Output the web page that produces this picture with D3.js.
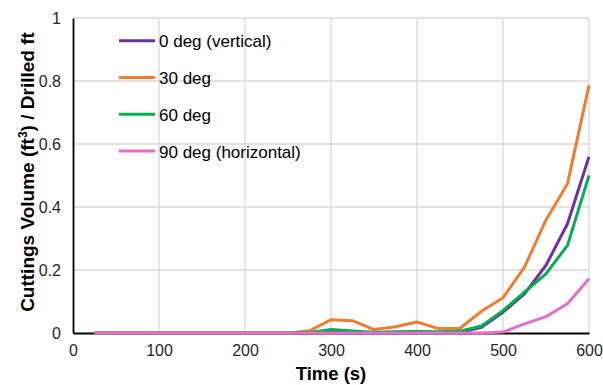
<!DOCTYPE html>
<html>
<head>
<meta charset="utf-8">
<script src="https://cdn.jsdelivr.net/npm/d3@7"></script>
<style>
  html, body { margin: 0; padding: 0; background: #fff; }
  svg { display: block; font-family: "Liberation Sans", Arial, sans-serif; }
</style>
</head>
<body>
<svg id="chart" width="603" height="385"></svg>
<script>
// Sample times (s)
const times = [25, 50, 75, 100, 125, 150, 175, 200, 225, 250, 275, 300, 325, 350, 375, 400, 425, 450, 475, 500, 525, 550, 575, 600];

// Cuttings volume per drilled foot for each inclination
const deg0  = [0, 0, 0, 0, 0, 0, 0, 0, 0, 0, 0, 0.002, 0.001, 0, 0.001, 0.003, 0.001, 0.002, 0.018, 0.066, 0.124, 0.215, 0.347, 0.56];
const deg30 = [0, 0, 0, 0, 0, 0, 0, 0, 0, 0, 0.007, 0.042, 0.039, 0.011, 0.02, 0.035, 0.014, 0.015, 0.069, 0.112, 0.209, 0.359, 0.474, 0.786];
const deg60 = [0, 0, 0, 0, 0, 0, 0, 0, 0, 0, 0.002, 0.011, 0.006, 0.002, 0.004, 0.005, 0.004, 0.006, 0.022, 0.071, 0.13, 0.188, 0.278, 0.5];
const deg90 = [0, 0, 0, 0, 0, 0, 0, 0, 0, 0, 0, 0, 0, 0, 0, 0, 0, 0, 0, 0.003, 0.029, 0.052, 0.093, 0.172];

const seriesNames = ["0 deg (vertical)", "30 deg", "60 deg", "90 deg (horizontal)"];
const seriesColors = ["#7030a0", "#ed7d31", "#00b050", "#e36fc9"];
const seriesValues = [deg0, deg30, deg60, deg90];

const xTicks = [0, 100, 200, 300, 400, 500, 600];
const yTicks = [0, 0.2, 0.4, 0.6, 0.8, 1];

const svg = d3.select("#chart");
const plotLeft = 73, plotRight = 589, plotTop = 18, plotBottom = 333;

const x = d3.scaleLinear().domain([0, 600]).range([plotLeft, plotRight]);
const y = d3.scaleLinear().domain([0, 1]).range([plotBottom, plotTop]);

// Gridlines
svg.append("g")
  .selectAll("line").data(yTicks.filter(d => d > 0)).join("line")
  .attr("x1", plotLeft).attr("x2", plotRight)
  .attr("y1", d => y(d)).attr("y2", d => y(d))
  .attr("stroke", "#d9d9d9").attr("stroke-width", 1.3);
svg.append("g")
  .selectAll("line").data(xTicks.filter(d => d > 0)).join("line")
  .attr("x1", d => x(d)).attr("x2", d => x(d))
  .attr("y1", plotTop).attr("y2", plotBottom)
  .attr("stroke", "#d9d9d9").attr("stroke-width", 1.3);

// Axes
const xAxis = svg.append("g")
  .attr("transform", `translate(0,${plotBottom})`)
  .call(d3.axisBottom(x).tickValues(xTicks).tickSize(0).tickPadding(12).tickFormat(d3.format("d")));
xAxis.select(".domain").attr("stroke", "#000").attr("stroke-width", 2.2);
xAxis.selectAll("text").attr("font-size", 16).attr("fill", "#262626").attr("font-family", "Liberation Sans, Arial, sans-serif");

const yAxis = svg.append("g")
  .attr("transform", `translate(${plotLeft},0)`)
  .call(d3.axisLeft(y).tickValues(yTicks).tickSize(0).tickPadding(12).tickFormat(d => String(+d.toFixed(1))));
yAxis.select(".domain").attr("stroke", "#000").attr("stroke-width", 1.8);
yAxis.selectAll("text").attr("font-size", 16).attr("fill", "#262626").attr("font-family", "Liberation Sans, Arial, sans-serif");

// Series lines
const line = d3.line().x((d, i) => x(times[i])).y(d => y(d));
svg.append("g")
  .selectAll("path").data(seriesValues).join("path")
  .attr("d", d => line(d))
  .attr("fill", "none")
  .attr("stroke", (d, i) => seriesColors[i])
  .attr("stroke-width", 3)
  .attr("stroke-linejoin", "round");

// Legend
const legend = svg.append("g");
seriesNames.forEach((name, i) => {
  const ly = 40.7 + i * 36.8;
  legend.append("line")
    .attr("x1", 119).attr("x2", 155).attr("y1", ly).attr("y2", ly)
    .attr("stroke", seriesColors[i]).attr("stroke-width", 3);
  legend.append("text")
    .attr("x", 159).attr("y", ly + 6.5)
    .attr("font-size", 17).attr("fill", "#000")
    .text(name);
});

// Axis titles
svg.append("text")
  .attr("x", (plotLeft + plotRight) / 2).attr("y", 380)
  .attr("text-anchor", "middle")
  .attr("font-size", 18.5).attr("font-weight", "bold").attr("fill", "#000")
  .text("Time (s)");

const yt = svg.append("text")
  .attr("transform", `translate(34,172) rotate(-90)`)
  .attr("text-anchor", "middle")
  .attr("font-size", 19).attr("font-weight", "bold").attr("fill", "#000");
yt.append("tspan").text("Cuttings Volume (ft");
yt.append("tspan").attr("dy", -7).attr("font-size", 12).text("3");
yt.append("tspan").attr("dy", 7).text(") / Drilled ft");
</script>
</body>
</html>
